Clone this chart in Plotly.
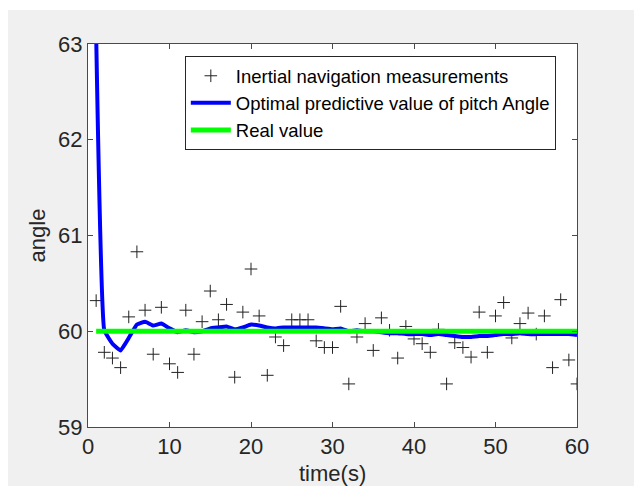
import plotly.graph_objects as go

# time axis (s)
t = list(range(1, 61))

# inertial navigation measurements of pitch angle
measured = [
    60.32, 59.78, 59.72, 59.62, 60.15, 60.83, 60.22, 59.76, 60.25, 59.66,
    59.57, 60.22, 59.76, 60.10, 60.42, 60.12, 60.28, 59.52, 60.20, 60.65,
    60.16, 59.54, 59.94, 59.85, 60.12, 60.12, 60.12, 59.90, 59.83, 59.83,
    60.26, 59.45, 59.94, 60.08, 59.80, 60.14, 60.01, 59.72, 60.05, 59.92,
    59.87, 59.78, 60.02, 59.45, 59.88, 59.83, 59.73, 60.20, 59.78, 60.16,
    60.30, 59.93, 60.08, 60.19, 59.97, 60.16, 59.62, 60.33, 59.70, 59.45,
]

# optimal predictive (filtered) pitch angle
predicted = [
    63.10, 60.01, 59.87, 59.80, 59.93, 60.07, 60.10, 60.06, 60.08, 60.03,
    59.99, 60.01, 59.99, 60.00, 60.03, 60.04, 60.05, 60.02, 60.04, 60.07,
    60.06, 60.04, 60.03, 60.04, 60.04, 60.04, 60.04, 60.04, 60.03, 60.02,
    60.03, 60.00, 60.01, 60.00, 60.00, 59.99, 59.98, 59.98, 59.97, 59.97,
    59.97, 59.96, 59.97, 59.96, 59.95, 59.94, 59.94, 59.95, 59.95, 59.96,
    59.97, 59.97, 59.98, 59.97, 59.97, 59.97, 59.97, 59.97, 59.97, 59.96,
]

# true pitch angle
real = [60.0] * len(t)

x_ticks = [0, 10, 20, 30, 40, 50, 60]
y_ticks = [59, 60, 61, 62, 63]

FONT = "Liberation Sans, Arial, sans-serif"
AXIS_COLOR = "#4a4a4a"
TEXT_COLOR = "#262626"

fig = go.Figure()

fig.add_trace(go.Scatter(
    x=t, y=measured, mode="markers",
    name="Inertial navigation measurements",
    marker=dict(symbol="cross-thin", size=9, color="#222222",
                line=dict(color="#222222", width=1)),
))
fig.add_trace(go.Scatter(
    x=t, y=predicted, mode="lines",
    name="Optimal predictive value of pitch Angle",
    line=dict(color="#0000ff", width=4, shape="spline", smoothing=0.3),
))
fig.add_trace(go.Scatter(
    x=t, y=real, mode="lines",
    name="Real value",
    line=dict(color="#00ff00", width=5),
))

axis_common = dict(
    showgrid=False, zeroline=False, automargin=False,
    showline=True, linecolor=AXIS_COLOR, linewidth=1, mirror="ticks",
    ticks="inside", ticklen=5, tickcolor=AXIS_COLOR, tickwidth=1,
    tickfont=dict(family=FONT, size=22, color=TEXT_COLOR),
)

fig.update_xaxes(
    range=[0, 60], tickvals=x_ticks, ticktext=[str(v) for v in x_ticks],
    **axis_common,
)
fig.update_yaxes(
    range=[59, 63], tickvals=y_ticks, ticktext=[str(v) for v in y_ticks],
    title=dict(text="angle", font=dict(family=FONT, size=22, color=TEXT_COLOR),
               standoff=6),
    **axis_common,
)

fig.update_layout(
    width=634, height=486,
    margin=dict(l=88, r=57, t=44, b=59),
    paper_bgcolor="#f0f0f0",
    plot_bgcolor="#ffffff",
    showlegend=True,
    legend=dict(
        x=0.198, y=0.968, xanchor="left", yanchor="top",
        bgcolor="#ffffff", bordercolor="#262626", borderwidth=1,
        font=dict(family=FONT, size=18.5, color="#000000"),
        tracegroupgap=0, itemwidth=40,
    ),
    annotations=[
        # x-axis title placed low in the bottom margin
        dict(text="time(s)", xref="paper", yref="paper", x=0.5, y=0,
             xanchor="center", yanchor="middle", yshift=-46, showarrow=False,
             font=dict(family=FONT, size=22, color=TEXT_COLOR)),
    ],
    shapes=[
        # thin white margins on the left and top edges of the figure
        dict(type="rect", xref="paper", yref="paper",
             x0=-88 / 489, x1=-80 / 489, y0=-59 / 383, y1=427 / 383,
             fillcolor="#ffffff", line=dict(width=0), layer="above"),
        dict(type="rect", xref="paper", yref="paper",
             x0=-88 / 489, x1=546 / 489, y0=417 / 383, y1=427 / 383,
             fillcolor="#ffffff", line=dict(width=0), layer="above"),
    ],
)

fig.write_html("out.html")
